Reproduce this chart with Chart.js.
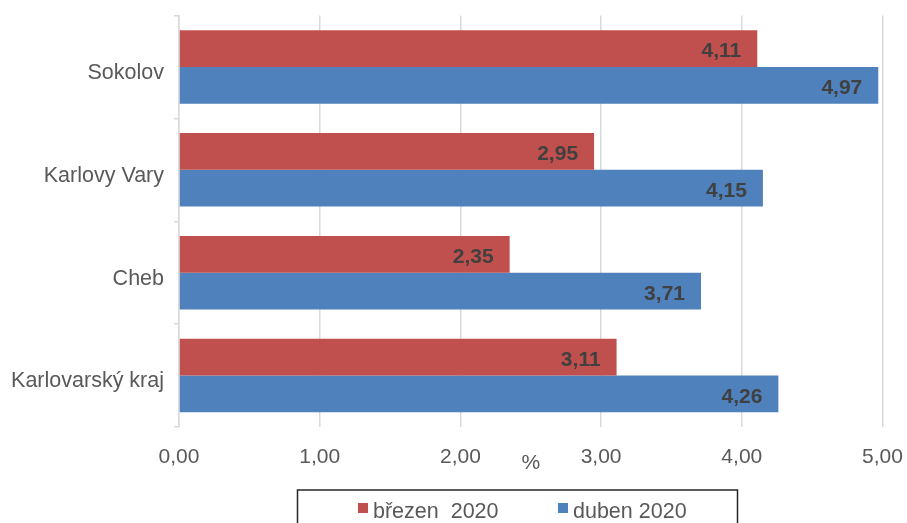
<!DOCTYPE html>
<html>
<head>
<meta charset="utf-8">
<script src="https://cdn.jsdelivr.net/npm/chart.js@4"></script>
<style>
  html, body { margin: 0; padding: 0; background: #fff; overflow: hidden; }
  #wrap { width: 907px; height: 523px; position: relative; }
</style>
</head>
<body>
<div id="wrap"><canvas id="c"></canvas></div>
<script>
const categories = ["Sokolov", "Karlovy Vary", "Cheb", "Karlovarský kraj"];
const seriesNames = ["březen  2020", "duben 2020"];
const brezen2020 = [4.11, 2.95, 2.35, 3.11];
const duben2020 = [4.97, 4.15, 3.71, 4.26];
const xTicks = [0, 1, 2, 3, 4, 5];
const axisTitle = "%";

const FONT = "'Liberation Sans', Arial, sans-serif";
const fmt = v => v.toFixed(2).replace('.', ',');

const barLabels = {
  id: 'barLabels',
  afterDatasetsDraw(chart) {
    const ctx = chart.ctx;
    ctx.save();
    ctx.font = "bold 21px " + FONT;
    ctx.fillStyle = '#404040';
    ctx.textAlign = 'right';
    ctx.textBaseline = 'middle';
    chart.data.datasets.forEach((ds, i) => {
      chart.getDatasetMeta(i).data.forEach((bar, j) => {
        ctx.fillText(fmt(ds.data[j]), bar.x - 16, bar.y + 3);
      });
    });
    ctx.restore();
  }
};

const boxedLegend = {
  id: 'boxedLegend',
  afterDraw(chart) {
    const ctx = chart.ctx;
    ctx.save();
    ctx.strokeStyle = '#262626';
    ctx.lineWidth = 1.5;
    ctx.strokeRect(297.5, 490, 440, 60);
    ctx.font = "21.5px " + FONT;
    ctx.textBaseline = 'middle';
    ctx.textAlign = 'left';
    const xs = [358, 558];
    chart.data.datasets.forEach((ds, i) => {
      ctx.fillStyle = ds.backgroundColor;
      ctx.fillRect(xs[i], 503, 10, 10);
      ctx.fillStyle = '#595959';
      ctx.fillText(ds.label, xs[i] + 15, 512);
    });
    ctx.restore();
  }
};

new Chart(document.getElementById('c'), {
  type: 'bar',
  data: {
    labels: categories,
    datasets: [
      { label: seriesNames[0], data: brezen2020, backgroundColor: '#C0504D' },
      { label: seriesNames[1], data: duben2020, backgroundColor: '#4F81BD' }
    ]
  },
  options: {
    indexAxis: 'y',
    responsive: true,
    maintainAspectRatio: false,
    animation: false,
    devicePixelRatio: 1,
    layout: { padding: { top: 15.5, right: 24.5, left: 0, bottom: 0 } },
    categoryPercentage: 0.714,
    barPercentage: 1.0,
    plugins: {
      legend: { display: false },
      tooltip: { enabled: false }
    },
    scales: {
      x: {
        min: 0, max: 5,
        afterBuildTicks(scale) { scale.ticks = xTicks.map(v => ({ value: v })); },
        afterFit(scale) { scale.height = 96; scale.paddingLeft = 0; scale.paddingRight = 0; },
        grid: { color: '#d9d9d9', lineWidth: 1.5, drawTicks: false },
        border: { display: false },
        ticks: {
          padding: 18,
          color: '#595959',
          font: { family: FONT, size: 21 },
          callback: v => fmt(v)
        },
        title: {
          display: true, text: axisTitle, color: '#595959',
          font: { family: FONT, size: 21 },
          padding: { top: 0, bottom: 47 }
        }
      },
      y: {
        afterFit(scale) { scale.width = 179; scale.paddingTop = 0; scale.paddingBottom = 0; },
        grid: { color: '#d9d9d9', lineWidth: 1.5, drawOnChartArea: false, tickLength: 5, offset: true },
        border: { display: true, color: '#d9d9d9', width: 1.5 },
        ticks: {
          padding: 10,
          labelOffset: 6,
          color: '#595959',
          font: { family: FONT, size: 21.5 }
        }
      }
    }
  },
  plugins: [barLabels, boxedLegend]
});
</script>
</body>
</html>
